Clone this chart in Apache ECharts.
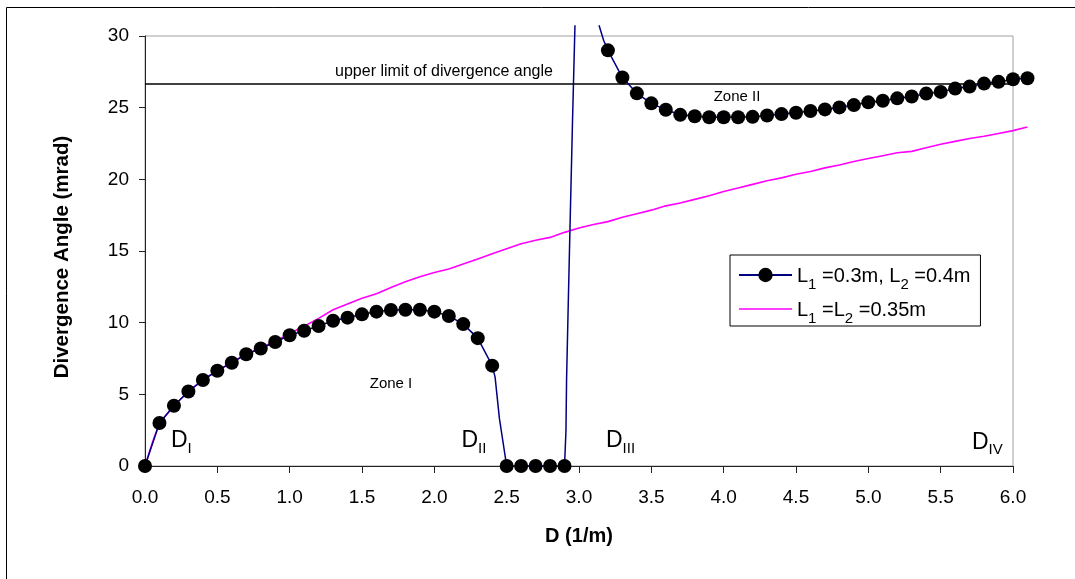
<!DOCTYPE html>
<html><head><meta charset="utf-8">
<script src="https://cdn.jsdelivr.net/npm/echarts@6/dist/echarts.min.js"></script>
<style>html,body{margin:0;padding:0;background:#fff}#c{width:1075px;height:579px}</style>
</head><body><div id="c"></div>
<script>
const FONT = '"Liberation Sans", Arial, Helvetica, sans-serif';

// ---- data: L1 = 0.3 m, L2 = 0.4 m (line points; measured points every 0.1 1/m carry a marker)
const navyD = [0,0.1,0.2,0.3,0.4,0.5,0.6,0.7,0.8,0.9,1.0,1.1,1.2,1.3,1.4,1.5,1.6,1.7,1.8,1.9,2.0,2.1,2.2,2.3,2.4,
  2.42,2.45,2.5,2.6,2.7,2.8,2.9,2.91,2.914,2.925,2.937,2.955,2.972,2.99,3.1,3.14,3.17,
  3.2,3.3,3.4,3.5,3.6,3.7,3.8,3.9,4.0,4.1,4.2,4.3,4.4,4.5,4.6,4.7,4.8,4.9,5.0,5.1,5.2,5.3,5.4,5.5,5.6,5.7,5.8,5.9,6.0,6.1];
const navyAngle = [0,3.0,4.2,5.2,6.0,6.65,7.2,7.8,8.2,8.65,9.12,9.44,9.77,10.13,10.35,10.58,10.77,10.88,10.9,10.9,10.77,10.47,9.9,8.92,7.0,
  6.2,3.3,0,0,0,0,0,2.5,6.0,11.0,16.3,24.0,30.7,38,40,30.7,29.7,
  29.0,27.1,26.0,25.3,24.85,24.5,24.4,24.33,24.33,24.33,24.36,24.45,24.55,24.65,24.77,24.88,25.02,25.18,25.37,25.48,25.65,25.78,25.98,26.1,26.33,26.47,26.68,26.8,26.98,27.05];

// ---- data: L1 = L2 = 0.35 m
const magD = [0,0.05,0.1,0.2,0.3,0.4,0.5,0.6,0.7,0.8,0.9,1.0,1.1,1.2,1.3,1.4,1.5,1.6,1.7,1.8,1.9,2.0,2.1,2.2,2.3,2.4,2.5,
  2.6,2.7,2.8,2.9,3.0,3.1,3.2,3.3,3.4,3.5,3.6,3.7,3.8,3.9,4.0,4.1,4.2,4.3,4.4,4.5,4.6,4.7,4.8,4.9,5.0,5.1,5.2,5.3,5.4,5.5,5.6,5.7,5.8,5.9,6.0,6.1];
const magAngle = [0,1.6,3.0,4.2,5.2,6.0,6.65,7.25,7.8,8.25,8.7,9.25,9.75,10.3,10.9,11.3,11.7,12.02,12.45,12.85,13.2,13.5,13.75,14.1,14.45,14.8,15.15,
  15.5,15.75,15.95,16.3,16.6,16.85,17.05,17.35,17.6,17.85,18.15,18.35,18.6,18.85,19.15,19.4,19.65,19.9,20.1,20.35,20.55,20.8,21.0,21.25,21.45,21.65,21.85,21.95,22.2,22.45,22.65,22.85,23.0,23.2,23.4,23.65];

// ---- upper limit of divergence angle
const limitD = [0, 6];
const limitAngle = [26.65, 26.65];

const seriesNames = ['L1 =0.3m, L2 =0.4m', 'L1 =L2 =0.35m'];
const zoneLabels = ['Zone I', 'Zone II'];
const limitLabel = 'upper limit of divergence angle';
const dLabels = [['D','I'],['D','II'],['D','III'],['D','IV']];
const xTitle = 'D (1/m)';
const yTitle = 'Divergence Angle (mrad)';

// ---- layout
const G = {left:145, top:36, width:868, height:430};
const X_MAX = 6, Y_MAX = 30;
const pxX = G.width / X_MAX, pxY = G.height / Y_MAX;
const G2 = {left:145, top:26, width:885, height:440};   // data clip region
const X2_MAX = G2.width / pxX, Y2_MAX = G2.height / pxY;

const isMeasured = (d, a) => Math.abs(d*10 - Math.round(d*10)) < 1e-9 && a <= 30;
const navyData = navyD.map((d,i) => isMeasured(d, navyAngle[i])
  ? {value:[d, navyAngle[i]]}
  : {value:[d, navyAngle[i]], symbol:'none'});
const magData = magD.map((d,i) => [d, magAngle[i]]);
const limitData = limitD.map((d,i) => [d, limitAngle[i]]);

function subRich(name){
  return '{m|' + name.replace(/L(\d)/g, 'L}{s|$1}{m|') + '}';
}

const chart = echarts.init(document.getElementById('c'), null, {renderer:'canvas'});

const dPos = [[171,429.5],[461.5,429.5],[606,429.5],[972,431]];
const graphic = [
  {type:'rect', silent:true, z:-10, shape:{x:6.5, y:7.5, width:1200, height:700},
   style:{fill:'none', stroke:'#000', lineWidth:1}},
  {type:'text', x:444, y:71.5, style:{text:limitLabel, fontSize:16, fontFamily:FONT, fill:'#000',
    align:'center', verticalAlign:'middle', textAlign:'center', textVerticalAlign:'middle'}},
  {type:'text', x:391, y:384, style:{text:zoneLabels[0], fontSize:15, fontFamily:FONT, fill:'#000',
    align:'center', verticalAlign:'middle', textAlign:'center', textVerticalAlign:'middle'}},
  {type:'text', x:737, y:97, style:{text:zoneLabels[1], fontSize:15, fontFamily:FONT, fill:'#000',
    align:'center', verticalAlign:'middle', textAlign:'center', textVerticalAlign:'middle'}}
];
dLabels.forEach((l,i) => {
  graphic.push({type:'text', x:dPos[i][0], y:dPos[i][1], style:{
    text:'{d|' + l[0] + '}{s|' + l[1] + '}',
    fill:'#000', fontFamily:FONT,
    align:'left', verticalAlign:'top', textAlign:'left', textVerticalAlign:'top',
    rich:{
      d:{fontSize:23, lineHeight:24, verticalAlign:'top', fontFamily:FONT, fill:'#000'},
      s:{fontSize:15, lineHeight:15, verticalAlign:'top', padding:[11.5,0,0,0], fontFamily:FONT, fill:'#000'}
    }}});
});

const option = {
  animation:false,
  backgroundColor:'#fff',
  textStyle:{fontFamily:FONT},
  grid:[
    {left:G.left, top:G.top, width:G.width, height:G.height, show:true, borderColor:'#a0a0a0', borderWidth:1, containLabel:false},
    {left:G2.left, top:G2.top, width:G2.width, height:G2.height, containLabel:false}
  ],
  xAxis:[
    {gridIndex:0, type:'value', min:0, max:X_MAX, interval:0.5,
     axisLine:{show:true, onZero:false, lineStyle:{color:'#222', width:1}},
     axisTick:{show:true, length:7, lineStyle:{color:'#222'}},
     axisLabel:{fontSize:19, color:'#000', margin:22, fontFamily:FONT, formatter:v=>v.toFixed(1)},
     splitLine:{show:false},
     name:xTitle, nameLocation:'middle', nameGap:60,
     nameTextStyle:{fontSize:20, fontWeight:'bold', color:'#000', fontFamily:FONT}},
    {gridIndex:1, type:'value', min:0, max:X2_MAX, show:false},
    {gridIndex:0, type:'value', min:0, max:X_MAX, interval:0.5,
     axisLine:{show:false}, axisLabel:{show:false}, splitLine:{show:false},
     axisTick:{show:true, inside:true, length:6, lineStyle:{color:'#222'}}}
  ],
  yAxis:[
    {gridIndex:0, type:'value', min:0, max:Y_MAX, interval:5,
     axisLine:{show:true, onZero:false, lineStyle:{color:'#222', width:1}},
     axisTick:{show:true, length:6, lineStyle:{color:'#222'}},
     axisLabel:{fontSize:19, color:'#000', margin:16, fontFamily:FONT},
     splitLine:{show:false},
     name:yTitle, nameLocation:'middle', nameRotate:90, nameGap:72,
     nameTextStyle:{fontSize:20.5, fontWeight:'bold', color:'#000', fontFamily:FONT, padding:[0,12,0,0]}},
    {gridIndex:1, type:'value', min:0, max:Y2_MAX, show:false}
  ],
  legend:{
    data:[seriesNames[0], {name:seriesNames[1], icon:'path://M0,0H53V1.6H0Z'}],
    orient:'vertical', left:730, top:255,
    padding:[11,10,0,8], itemGap:8, itemWidth:53, itemHeight:18,
    backgroundColor:'#fff', borderColor:'#000', borderWidth:1, borderRadius:0,
    formatter:subRich,
    textStyle:{color:'#000', fontFamily:FONT,
      rich:{
        m:{fontSize:20, lineHeight:18, verticalAlign:'top', fontFamily:FONT, color:'#000'},
        s:{fontSize:15, lineHeight:12, verticalAlign:'top', padding:[11,0,0,0], fontFamily:FONT, color:'#000'}
      }}
  },
  graphic:graphic,
  series:[
    {name:'limit', type:'line', xAxisIndex:0, yAxisIndex:0, data:limitData, symbol:'none',
     lineStyle:{color:'#000', width:1.5}, silent:true, z:1},
    {name:seriesNames[1], type:'line', xAxisIndex:1, yAxisIndex:1, data:magData, symbol:'none',
     lineStyle:{color:'#ff00ff', width:1.6}, itemStyle:{color:'#ff00ff'}, clip:true, z:2},
    {name:seriesNames[0], type:'line', xAxisIndex:1, yAxisIndex:1, data:navyData,
     symbol:'circle', symbolSize:14, showAllSymbol:true,
     itemStyle:{color:'#000'}, lineStyle:{color:'#000080', width:1.5}, clip:true, z:3}
  ]
};
chart.setOption(option);
</script>
</body></html>
